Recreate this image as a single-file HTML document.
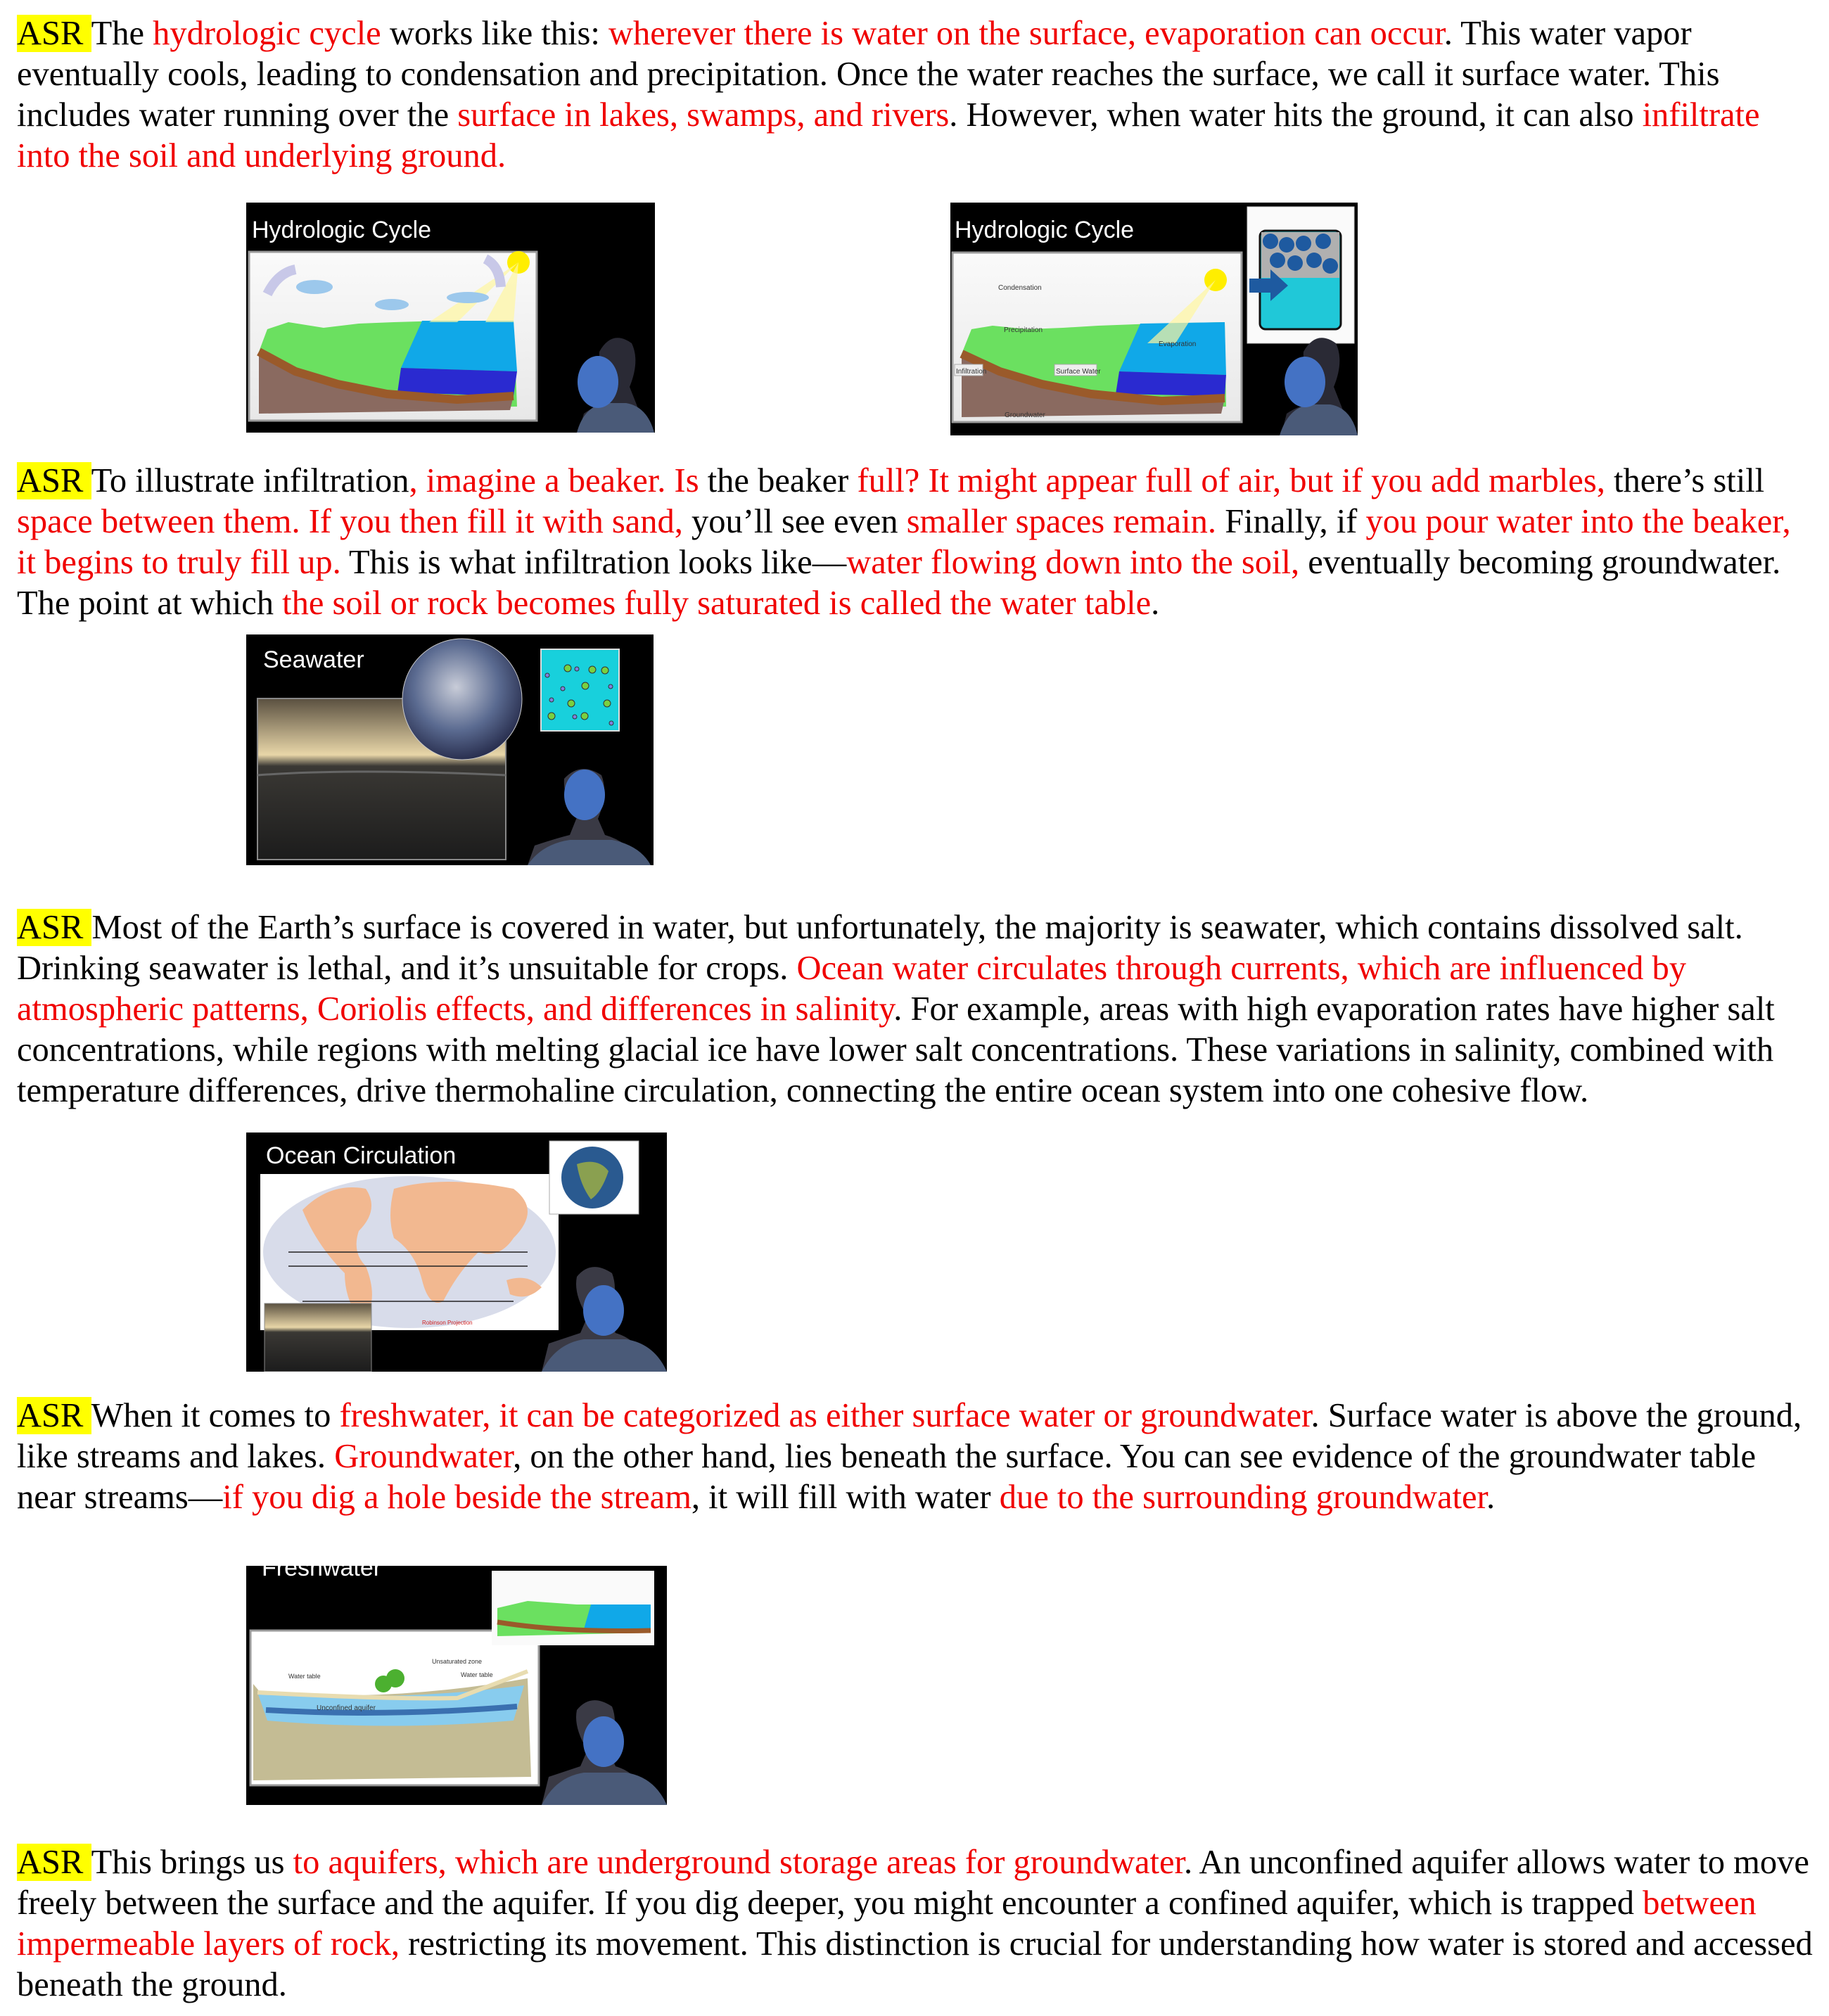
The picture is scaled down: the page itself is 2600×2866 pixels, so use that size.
<!DOCTYPE html>
<html><head><meta charset="utf-8">
<style>
html,body{margin:0;padding:0;background:#fff;}
body{width:2600px;height:2866px;position:relative;overflow:hidden;font-family:"Liberation Serif","Times New Roman",serif;}
.ln{position:absolute;left:24px;white-space:nowrap;font-size:48.5px;line-height:52px;color:#000;}
.r{color:#f00000;}
.hl{background:#ffff00;}
.img{position:absolute;background:#000;overflow:hidden;}
.img svg{position:absolute;left:0;top:0;}
</style></head>
<body>
<svg width="0" height="0" style="position:absolute">
 <defs>
  <linearGradient id="sea" x1="0" y1="0" x2="0" y2="1"><stop offset="0" stop-color="#5a5040"/><stop offset="0.35" stop-color="#e8d6a8"/><stop offset="0.42" stop-color="#3a3834"/><stop offset="1" stop-color="#1c1c1c"/></linearGradient>
  <radialGradient id="earth" cx="0.45" cy="0.4" r="0.6"><stop offset="0" stop-color="#c8ccd8"/><stop offset="0.6" stop-color="#5a6a90"/><stop offset="1" stop-color="#2a3050"/></radialGradient>
  <linearGradient id="sky" x1="0" y1="0" x2="0" y2="1"><stop offset="0" stop-color="#fafafa"/><stop offset="1" stop-color="#e8e8e8"/></linearGradient>
 </defs>
</svg>

<!-- Paragraph 1 -->
<div class="ln" style="top:22px"><span class="hl">ASR </span>The <span class="r">hydrologic cycle</span> works like this: <span class="r">wherever there is water on the surface, evaporation can occur</span>. This water vapor</div>
<div class="ln" style="top:80px">eventually cools, leading to condensation and precipitation. Once the water reaches the surface, we call it surface water. This</div>
<div class="ln" style="top:138px">includes water running over the <span class="r">surface in lakes, swamps, and rivers</span>. However, when water hits the ground, it can also <span class="r">infiltrate</span></div>
<div class="ln" style="top:196px"><span class="r">into the soil and underlying ground.</span></div>

<!-- Image 1 -->
<div class="img" style="left:350px;top:288px;width:581px;height:327px">
<svg width="581" height="327">
 <text x="8" y="50" fill="#fff" font-family="Liberation Sans, sans-serif" font-size="34">Hydrologic Cycle</text>
 <rect x="4" y="70" width="409" height="240" fill="url(#sky)" stroke="#999" stroke-width="3"/>
 <polygon points="18,212 30,180 60,170 110,178 160,172 210,170 280,168 380,168 385,290 18,295" fill="#6be060"/>
 <polygon points="250,168 380,168 385,240 220,235" fill="#10a8e8"/>
 <polygon points="220,235 385,240 380,275 215,270" fill="#2a2ad0"/>
 <polygon points="18,212 70,240 130,258 200,272 300,280 380,275 375,295 18,300" fill="#8a6a60"/>
 <path d="M18,212 L70,240 130,258 200,272 300,280 380,275" stroke="#9a5a2a" stroke-width="12" fill="none"/>
 <circle cx="387" cy="85" r="16" fill="#ffee00"/>
 <polygon points="387,85 260,170 300,170" fill="#fff7a0" opacity="0.7"/>
 <polygon points="387,85 340,170 380,170" fill="#fff7a0" opacity="0.7"/>
 <ellipse cx="97" cy="120" rx="26" ry="10" fill="#9cc8ec"/>
 <ellipse cx="207" cy="145" rx="24" ry="8" fill="#9cc8ec"/>
 <ellipse cx="315" cy="135" rx="30" ry="8" fill="#9cc8ec"/>
 <path d="M30,130 q15,-30 40,-35" stroke="#c8c8e8" stroke-width="14" fill="none"/>
 <path d="M340,80 q20,10 22,40" stroke="#c8c8e8" stroke-width="14" fill="none"/>
 <path d="M472,327 L480,300 Q500,285 515,290 L520,260 Q500,230 502,212 Q520,180 548,200 Q560,225 545,262 L560,300 L575,327Z" fill="#2a2a35"/>
 <path d="M470,327 Q480,290 510,285 L540,285 Q570,290 580,327Z" fill="#4a5a78"/>
 <ellipse cx="500" cy="255" rx="29" ry="37" fill="#4472c4"/>
</svg></div>

<!-- Image 2 -->
<div class="img" style="left:1351px;top:288px;width:579px;height:331px">
<svg width="579" height="331">
 <text x="6" y="50" fill="#fff" font-family="Liberation Sans, sans-serif" font-size="34">Hydrologic Cycle</text>
 <rect x="3" y="71" width="411" height="241" fill="url(#sky)" stroke="#999" stroke-width="3"/>
 <polygon points="16,215 30,180 60,175 110,180 160,178 210,175 290,172 390,170 392,290 16,295" fill="#6be060"/>
 <polygon points="270,172 390,170 392,245 240,240" fill="#10a8e8"/>
 <polygon points="240,240 392,245 390,275 235,272" fill="#2a2ad0"/>
 <polygon points="16,215 70,240 130,258 200,272 300,282 390,278 385,300 16,305" fill="#8a6a60"/>
 <path d="M16,215 L70,240 130,258 200,272 300,282 390,278" stroke="#9a5a2a" stroke-width="12" fill="none"/>
 <circle cx="377" cy="110" r="16" fill="#ffee00"/>
 <polygon points="377,110 280,200 320,200" fill="#fff7a0" opacity="0.7"/>
 <text x="68" y="124" font-family="Liberation Sans, sans-serif" font-size="10" fill="#333">Condensation</text>
 <text x="76" y="184" font-family="Liberation Sans, sans-serif" font-size="10" fill="#333">Precipitation</text>
 <text x="296" y="204" font-family="Liberation Sans, sans-serif" font-size="10" fill="#333">Evaporation</text>
 <rect x="6" y="230" width="40" height="16" fill="#eee" stroke="#aaa"/><text x="8" y="243" font-family="Liberation Sans, sans-serif" font-size="10" fill="#333">Infiltration</text>
 <rect x="148" y="230" width="60" height="16" fill="#eee" stroke="#aaa"/><text x="150" y="243" font-family="Liberation Sans, sans-serif" font-size="10" fill="#333">Surface Water</text>
 <text x="77" y="305" font-family="Liberation Sans, sans-serif" font-size="10" fill="#333">Groundwater</text>
 <rect x="422" y="6" width="152" height="194" fill="#fafafa" stroke="#ccc"/>
 <rect x="440" y="40" width="115" height="140" rx="8" fill="#20c8d8" stroke="#111" stroke-width="3"/>
 <rect x="442" y="42" width="111" height="65" fill="#b0b0b0"/>
 <circle cx="455" cy="55" r="11" fill="#1e5aa0"/><circle cx="478" cy="60" r="11" fill="#1e5aa0"/><circle cx="502" cy="58" r="11" fill="#1e5aa0"/><circle cx="530" cy="55" r="11" fill="#1e5aa0"/><circle cx="465" cy="82" r="11" fill="#1e5aa0"/><circle cx="490" cy="86" r="11" fill="#1e5aa0"/><circle cx="517" cy="82" r="11" fill="#1e5aa0"/><circle cx="540" cy="90" r="11" fill="#1e5aa0"/>
 <polygon points="425,108 455,108 455,95 480,118 455,140 455,128 425,128" fill="#1e5aa0"/>
 <path d="M470,331 L478,300 Q500,285 515,290 L520,260 Q500,230 502,212 Q520,180 548,200 Q560,225 545,262 L560,300 L575,331Z" fill="#2a2a35"/>
 <path d="M468,331 Q480,292 510,287 L540,287 Q570,292 579,331Z" fill="#4a5a78"/>
 <ellipse cx="504" cy="255" rx="29" ry="36" fill="#4472c4"/>
</svg></div>

<!-- Paragraph 2 -->
<div class="ln" style="top:658px"><span class="hl">ASR </span>To illustrate infiltration<span class="r">, imagine a beaker. Is</span> the beaker <span class="r">full? It might appear full of air, but if you add marbles,</span> there’s still</div>
<div class="ln" style="top:716px"><span class="r">space between them. If you then fill it with sand,</span> you’ll see even <span class="r">smaller spaces remain.</span> Finally, if <span class="r">you pour water into the beaker,</span></div>
<div class="ln" style="top:774px"><span class="r">it begins to truly fill up.</span> This is what infiltration looks like—<span class="r">water flowing down into the soil,</span> eventually becoming groundwater.</div>
<div class="ln" style="top:832px">The point at which <span class="r">the soil or rock becomes fully saturated is called the water table</span>.</div>

<!-- Image 3 Seawater -->
<div class="img" style="left:350px;top:902px;width:579px;height:328px">
<svg width="579" height="328">
 <text x="24" y="47" fill="#fff" font-family="Liberation Sans, sans-serif" font-size="34">Seawater</text>
 <rect x="16" y="91" width="353" height="229" fill="url(#sea)" stroke="#888" stroke-width="2"/>
 <path d="M16,200 Q150,190 369,200" stroke="#666" stroke-width="3" fill="none"/>
 <ellipse cx="307" cy="92" rx="85" ry="86" fill="url(#earth)" stroke="#ccc"/>
 <rect x="419" y="21" width="111" height="116" fill="#18d0dc" stroke="#ddd" stroke-width="2"/>
 <circle cx="457" cy="48" r="5" fill="#7ad040" stroke="#333"/><circle cx="492" cy="50" r="5" fill="#7ad040" stroke="#333"/><circle cx="482" cy="73" r="5" fill="#7ad040" stroke="#333"/><circle cx="462" cy="98" r="5" fill="#7ad040" stroke="#333"/><circle cx="513" cy="98" r="5" fill="#7ad040" stroke="#333"/><circle cx="434" cy="116" r="5" fill="#7ad040" stroke="#333"/><circle cx="481" cy="116" r="5" fill="#7ad040" stroke="#333"/><circle cx="510" cy="51" r="5" fill="#7ad040" stroke="#333"/>
 <circle cx="428" cy="58" r="3" fill="#8080e0" stroke="#333"/><circle cx="470" cy="49" r="3" fill="#8080e0" stroke="#333"/><circle cx="450" cy="77" r="3" fill="#8080e0" stroke="#333"/><circle cx="518" cy="74" r="3" fill="#8080e0" stroke="#333"/><circle cx="434" cy="93" r="3" fill="#8080e0" stroke="#333"/><circle cx="467" cy="117" r="3" fill="#8080e0" stroke="#333"/><circle cx="519" cy="126" r="3" fill="#8080e0" stroke="#333"/>
 <path d="M400,328 L410,300 Q440,290 460,285 L470,260 Q450,230 452,205 Q475,180 505,200 Q515,225 500,262 L510,285 Q545,295 565,328Z" fill="#3a3a45"/>
 <path d="M400,328 Q420,298 460,292 L520,292 Q560,300 575,328Z" fill="#4a5a78"/>
 <ellipse cx="481" cy="228" rx="29" ry="36" fill="#4472c4"/>
</svg></div>

<!-- Paragraph 3 -->
<div class="ln" style="top:1293px"><span class="hl">ASR </span>Most of the Earth’s surface is covered in water, but unfortunately, the majority is seawater, which contains dissolved salt.</div>
<div class="ln" style="top:1351px">Drinking seawater is lethal, and it’s unsuitable for crops. <span class="r">Ocean water circulates through currents, which are influenced by</span></div>
<div class="ln" style="top:1409px"><span class="r">atmospheric patterns, Coriolis effects, and differences in salinity</span>. For example, areas with high evaporation rates have higher salt</div>
<div class="ln" style="top:1467px">concentrations, while regions with melting glacial ice have lower salt concentrations. These variations in salinity, combined with</div>
<div class="ln" style="top:1525px">temperature differences, drive thermohaline circulation, connecting the entire ocean system into one cohesive flow.</div>

<!-- Image 4 Ocean Circulation -->
<div class="img" style="left:350px;top:1610px;width:598px;height:340px">
<svg width="598" height="340">
 <text x="28" y="44" fill="#fff" font-family="Liberation Sans, sans-serif" font-size="34">Ocean Circulation</text>
 <rect x="20" y="59" width="424" height="222" fill="#fff"/>
 <ellipse cx="232" cy="170" rx="208" ry="108" fill="#d8dcea"/>
 <path d="M80,110 Q120,70 170,80 Q190,110 160,140 Q150,170 170,190 Q190,240 165,270 Q140,240 140,200 Q100,160 80,110Z" fill="#f2b890"/>
 <path d="M210,80 Q280,60 380,80 Q420,110 380,150 Q360,180 330,170 Q300,200 280,240 Q260,250 250,210 Q240,170 210,150 Q200,120 210,80Z" fill="#f2b890"/>
 <path d="M370,210 Q400,200 420,220 Q400,240 375,230Z" fill="#f2b890"/>
 <path d="M60,170 L400,170 M60,190 L400,190 M80,240 L380,240" stroke="#222" stroke-width="1.5"/>
 <text x="250" y="273" font-family="Liberation Sans, sans-serif" font-size="8" fill="#d02020">Robinson Projection</text>
 <rect x="26" y="243" width="152" height="97" fill="url(#sea)" stroke="#888"/>
 <rect x="431" y="12" width="127" height="104" fill="#fff" stroke="#aaa"/>
 <circle cx="492" cy="64" r="44" fill="#2a5a90"/>
 <path d="M470,45 Q500,35 515,55 Q505,85 490,95 Q475,75 470,45Z" fill="#8aa050"/>
 <path d="M420,340 L430,300 Q460,290 475,285 L485,262 Q465,230 470,205 Q490,180 520,200 Q530,225 515,262 L525,285 Q560,295 580,340Z" fill="#3a3a45"/>
 <path d="M420,340 Q440,300 480,294 L540,294 Q580,300 598,340Z" fill="#4a5a78"/>
 <ellipse cx="508" cy="253" rx="29" ry="36" fill="#4472c4"/>
</svg></div>

<!-- Paragraph 4 -->
<div class="ln" style="top:1987px"><span class="hl">ASR </span>When it comes to <span class="r">freshwater, it can be categorized as either surface water or groundwater</span>. Surface water is above the ground,</div>
<div class="ln" style="top:2045px">like streams and lakes. <span class="r">Groundwater</span>, on the other hand, lies beneath the surface. You can see evidence of the groundwater table</div>
<div class="ln" style="top:2103px">near streams—<span class="r">if you dig a hole beside the stream</span>, it will fill with water <span class="r">due to the surrounding groundwater</span>.</div>

<!-- Image 5 Freshwater -->
<div class="img" style="left:350px;top:2226px;width:598px;height:340px">
<svg width="598" height="340">
 <text x="22" y="14" fill="#fff" font-family="Liberation Sans, sans-serif" font-size="34">Freshwater</text>
 <rect x="6" y="92" width="410" height="220" fill="#fff" stroke="#999" stroke-width="3"/>
 <path d="M10,168 L20,180 Q200,195 400,160 L405,300 L10,305Z" fill="#c4bc94"/>
 <path d="M16,180 Q200,195 395,170 L380,220 Q200,235 30,220Z" fill="#88ccee"/>
 <path d="M28,205 Q200,215 385,200" stroke="#3a70b0" stroke-width="8" fill="none"/>
 <path d="M16,180 Q200,190 300,188 L400,150" stroke="#e8dcb0" stroke-width="6" fill="none"/>
 <text x="100" y="205" font-family="Liberation Sans, sans-serif" font-size="10" fill="#333">Unconfined aquifer</text>
 <text x="60" y="160" font-family="Liberation Sans, sans-serif" font-size="9" fill="#333">Water table</text>
 <text x="264" y="139" font-family="Liberation Sans, sans-serif" font-size="9" fill="#333">Unsaturated zone</text>
 <text x="305" y="158" font-family="Liberation Sans, sans-serif" font-size="9" fill="#333">Water table</text>
 <circle cx="195" cy="168" r="12" fill="#4cb030"/><circle cx="212" cy="160" r="13" fill="#4cb030"/>
 <rect x="349" y="7" width="231" height="106" fill="#fafafa"/>
 <polygon points="357,60 400,50 470,55 575,55 575,95 357,100" fill="#6be060"/>
 <polygon points="490,55 575,55 575,90 480,90" fill="#10a8e8"/>
 <path d="M357,80 Q450,95 575,92" stroke="#9a5a2a" stroke-width="7" fill="none"/>
 <path d="M420,340 L430,300 Q460,290 475,285 L485,262 Q465,230 470,205 Q490,180 520,200 Q530,225 515,262 L525,285 Q560,295 580,340Z" fill="#3a3a45"/>
 <path d="M420,340 Q440,300 480,294 L540,294 Q580,300 598,340Z" fill="#4a5a78"/>
 <ellipse cx="508" cy="250" rx="29" ry="36" fill="#4472c4"/>
</svg></div>

<!-- Paragraph 5 -->
<div class="ln" style="top:2622px"><span class="hl">ASR </span>This brings us <span class="r">to aquifers, which are underground storage areas for groundwater</span>. An unconfined aquifer allows water to move</div>
<div class="ln" style="top:2680px">freely between the surface and the aquifer. If you dig deeper, you might encounter a confined aquifer, which is trapped <span class="r">between</span></div>
<div class="ln" style="top:2738px"><span class="r">impermeable layers of rock,</span> restricting its movement. This distinction is crucial for understanding how water is stored and accessed</div>
<div class="ln" style="top:2796px">beneath the ground.</div>
</body></html>
